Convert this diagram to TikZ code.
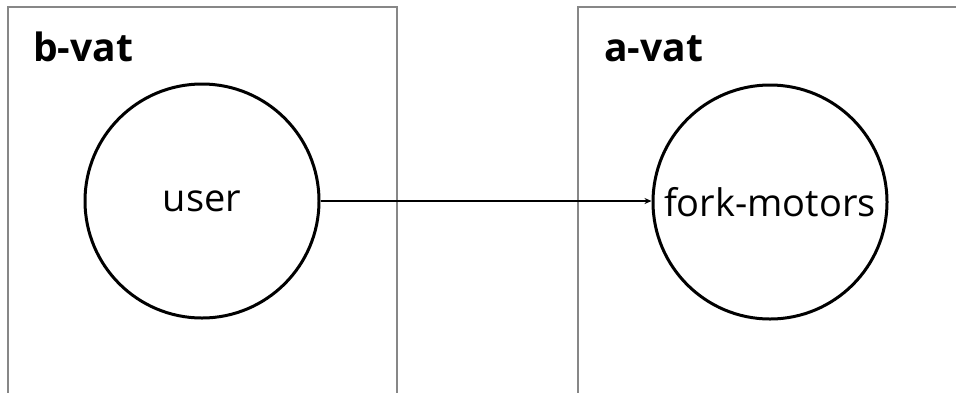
\documentclass[tikz,border=0pt]{standalone}
\usepackage{fontspec}
\setmainfont{Open Sans}
\usetikzlibrary{arrows.meta}
\begin{document}
\begin{tikzpicture}[x=1pt,y=-1pt,
  vatbox/.style={draw=black!47,line width=2.2pt},
  vatlabel/.style={anchor=base west,inner sep=0pt,font=\fontsize{39}{42}\selectfont\bfseries},
  svc/.style={draw=black,line width=3pt,circle,minimum size=234pt,inner sep=0pt,font=\fontsize{38}{42}\selectfont},
  conn/.style={draw=black,line width=2.4pt,-{Stealth[length=7pt,width=6pt]}}]
\useasboundingbox (0,0) rectangle (956,392);
\begin{scope}
\clip (0,0) rectangle (956,392);
\draw[vatbox] (8,7) rectangle (397,420);
\draw[vatbox] (578,7) rectangle (990,420);
\end{scope}
\node[vatlabel] (bvat) at (33,61) {b-vat};
\node[vatlabel] (avat) at (604,61) {a-vat};
\node[svc] (user) at (202,201) {user};
\node[svc] (fork) at (770,202) {fork-motors};
\draw[conn] (user.east) -- (user.east -| fork.west);
\end{tikzpicture}
\end{document}
